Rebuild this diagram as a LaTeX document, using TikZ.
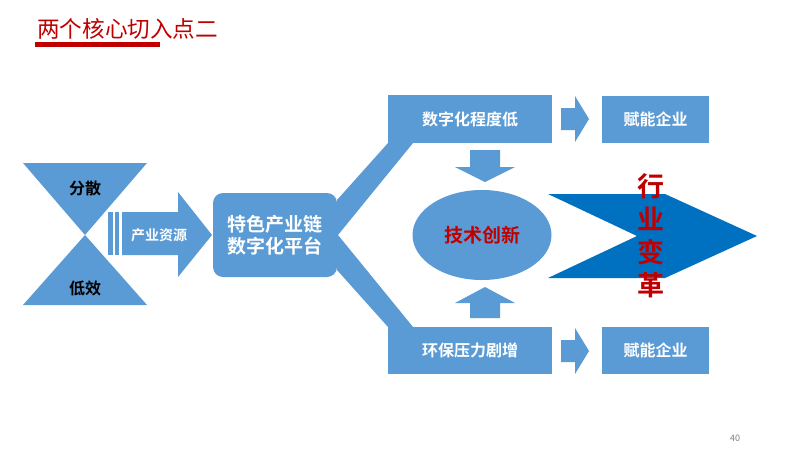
\documentclass[tikz,border=0pt]{standalone}
\usepackage{fontspec}
\setmainfont{Noto Sans CJK SC}[BoldFont={Noto Sans CJK SC Bold}]
\usetikzlibrary{shapes.geometric}
\definecolor{lblue}{HTML}{5B9BD5}
\definecolor{dblue}{HTML}{0070C0}
\definecolor{dred}{HTML}{C00000}
\begin{document}
\begin{tikzpicture}[x=1pt,y=-1pt,
  boxw/.style={fill=lblue,draw=none,text=white,font=\bfseries\fontsize{16}{18}\selectfont,inner sep=0pt},
  blk/.style={fill=lblue,draw=none}]
\useasboundingbox (0,0) rectangle (800,450);
\fill[white] (0,0) rectangle (800,450);
% title
\node[text=dred,font=\fontsize{22.6}{24}\selectfont,anchor=west,inner sep=0pt] (title) at (37,29) {两个核心切入点二};
\fill[dred] (35,42) rectangle (160,46.5);
% hourglass
\fill[lblue] (23,163) -- (147,163) -- (85,235) -- cycle;
\fill[lblue] (23,305) -- (147,305) -- (85,235) -- cycle;
\node[font=\bfseries\fontsize{16}{18}\selectfont,text=black] (fs) at (85,188) {分散};
\node[font=\bfseries\fontsize{16}{18}\selectfont,text=black] (dx) at (85,288) {低效};
% resource arrow
\fill[lblue] (108,212) rectangle (113,255);
\fill[lblue] (115,212) rectangle (119,255);
\fill[lblue] (122,212) -- (178,212) -- (178,192) -- (212,235) -- (178,277) -- (178,255) -- (122,255) -- cycle;
\node[text=white,font=\bfseries\fontsize{14}{16}\selectfont] (res) at (159,235) {产业资源};
% band
\fill[lblue] (388,143) -- (413,143) -- (338,235) -- (413,327) -- (388,327) -- (337,270) -- (337,200) -- cycle;
% platform
\node[boxw,rounded corners=10pt,minimum width=124pt,minimum height=84pt,align=center,font=\bfseries\fontsize{19}{22}\selectfont] (plat) at (275,235) {特色产业链\\数字化平台};
% top/bottom boxes
\node[boxw,minimum width=164pt,minimum height=48pt] (top) at (470,119) {数字化程度低};
\node[boxw,minimum width=164pt,minimum height=47pt] (bot) at (470,350.5) {环保压力剧增};
\node[boxw,minimum width=107pt,minimum height=47pt] (e1) at (655.5,119) {赋能企业};
\node[boxw,minimum width=107pt,minimum height=47pt] (e2) at (655.5,350.5) {赋能企业};
% small right arrows
\fill[lblue] (561,108) -- (575,108) -- (575,96) -- (589,119) -- (575,142) -- (575,130) -- (561,130) -- cycle;
\fill[lblue] (561,340) -- (575,340) -- (575,328) -- (589,351) -- (575,374) -- (575,362) -- (561,362) -- cycle;
% down / up arrows
\fill[lblue] (470,150) -- (500,150) -- (500,167) -- (515,167) -- (485,182) -- (455,167) -- (470,167) -- cycle;
\fill[lblue] (470,318) -- (500,318) -- (500,303) -- (515,303) -- (485,287) -- (455,303) -- (470,303) -- cycle;
% ellipse
\node[ellipse,fill=lblue,draw=none,minimum width=139pt,minimum height=90pt,inner sep=0pt,text=dred,font=\bfseries\fontsize{19}{22}\selectfont] (tech) at (482,235) {技术创新};
% big chevron
\fill[dblue] (548,194) -- (665,194) -- (757,236) -- (665,278) -- (548,278) -- (637,236) -- cycle;
\node[text=dred,font=\bfseries\fontsize{27}{33}\selectfont,align=center,inner sep=0pt] (rev) at (651,236) {行\\业\\变\\革};
% page number
\node[text=gray,font=\fontsize{9}{10}\selectfont] (pg) at (735,438) {40};
\end{tikzpicture}
\end{document}
